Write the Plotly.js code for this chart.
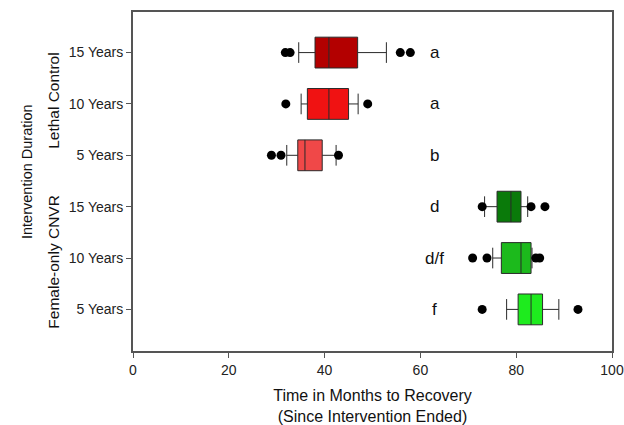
<!DOCTYPE html>
<html>
<head>
<meta charset="utf-8">
<script src="https://cdn.plot.ly/plotly-3.0.1.min.js"></script>
<style>html,body{margin:0;padding:0;background:#fff;}#chart{width:624px;height:425px;}</style>
</head>
<body>
<div id="chart"></div>
<script>
// Categories (top to bottom)
const tickLabels = ["15 Years", "10 Years", "5 Years", "15 Years", "10 Years", "5 Years"];
const positions = [6, 5, 4, 3, 2, 1];
const groupLabels = ["Lethal Control", "Female-only CNVR"];
const letters = ["a", "a", "b", "d", "d/f", "f"];

// Box statistics (months)
const q1 = [38.0, 36.4, 34.4, 76.0, 76.9, 80.4];
const median = [40.9, 40.9, 35.9, 78.9, 81.0, 83.1];
const q3 = [46.9, 45.0, 39.5, 81.0, 83.1, 85.5];
const lowerWhisker = [34.6, 35.1, 32.1, 73.4, 75.1, 78.0];
const upperWhisker = [52.9, 47.0, 42.4, 82.4, 83.3, 88.9];

// Outliers per category
const outliers = [
  [31.8, 32.8, 55.8, 57.9],
  [31.9, 49.0],
  [28.9, 30.9, 42.9],
  [72.9, 83.1, 86.0],
  [70.9, 73.9, 84.1, 84.9],
  [72.9, 92.9]
];

const colors = ["#B30000", "#F01212", "#F04848", "#0A7A0A", "#1CBA1C", "#1EEB1E"];

const FONT = "Liberation Sans, Arial, sans-serif";
const traces = [];
for (let i = 0; i < positions.length; i++) {
  traces.push({
    type: "box",
    orientation: "h",
    y: [positions[i]],
    q1: [q1[i]],
    median: [median[i]],
    q3: [q3[i]],
    lowerfence: [lowerWhisker[i]],
    upperfence: [upperWhisker[i]],
    width: 0.6,
    whiskerwidth: 0.67,
    fillcolor: colors[i],
    line: {color: "#2a2a2a", width: 1},
    boxpoints: false,
    hoverinfo: "skip",
    showlegend: false
  });
}
const ox = [], oy = [];
outliers.forEach((arr, i) => arr.forEach(v => { ox.push(v); oy.push(positions[i]); }));
traces.push({
  type: "scatter", mode: "markers", x: ox, y: oy,
  marker: {color: "#000", size: 9},
  showlegend: false, hoverinfo: "skip"
});

const annotations = letters.map((t, i) => ({
  x: 63, y: positions[i], xref: "x", yref: "y", text: t, showarrow: false,
  font: {family: FONT, size: 17, color: "#111"}
}));
annotations.push({
  xref: "paper", yref: "y", x: 0, xshift: -79, xanchor: "center", yanchor: "middle", y: 5.06, text: groupLabels[0], textangle: -90,
  showarrow: false, font: {family: FONT, size: 15.5, color: "#111"}
});
annotations.push({
  xref: "paper", yref: "y", x: 0, xshift: -79, xanchor: "center", yanchor: "middle", y: 1.93, text: groupLabels[1], textangle: -90,
  showarrow: false, font: {family: FONT, size: 15.5, color: "#111"}
});
annotations.push({
  xref: "paper", yref: "paper", x: 0, xshift: -106, xanchor: "center", yanchor: "middle", y: 0.528, text: "Intervention Duration", textangle: -90,
  showarrow: false, font: {family: FONT, size: 14.5, color: "#111"}
});

const layout = {
  width: 624, height: 425,
  margin: {l: 133, r: 12, t: 12, b: 74},
  paper_bgcolor: "#fff", plot_bgcolor: "#fff",
  font: {family: FONT, size: 14, color: "#222"},
  xaxis: {
    range: [0, 100], tickvals: [0, 20, 40, 60, 80, 100],
    ticks: "outside", ticklen: 5, tickcolor: "#555",
    showline: true, linecolor: "#555", linewidth: 2, mirror: true,
    showgrid: false, zeroline: false,
    ticklabeloverflow: "allow",
    tickfont: {size: 14},
    title: {text: "Time in Months to Recovery<br>(Since Intervention Ended)", font: {size: 16, color: "#111"}, standoff: 15}
  },
  yaxis: {
    range: [0.19, 6.79], tickvals: positions, ticktext: tickLabels,
    ticks: "outside", ticklen: 5, tickcolor: "#555",
    showline: true, linecolor: "#555", linewidth: 2, mirror: true,
    showgrid: false, zeroline: false,
    tickfont: {size: 14}
  },
  annotations: annotations,
  showlegend: false
};

Plotly.newPlot("chart", traces, layout, {displayModeBar: false, staticPlot: true});
</script>
</body>
</html>
